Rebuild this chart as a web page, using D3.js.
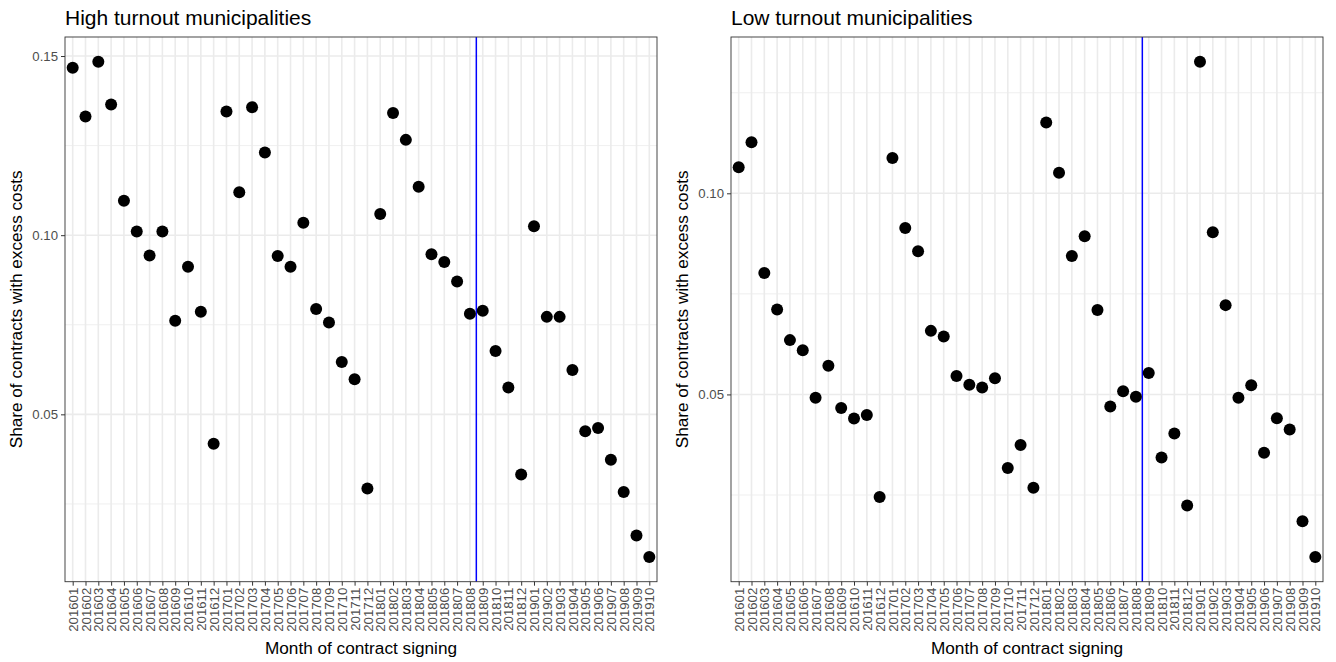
<!DOCTYPE html>
<html>
<head>
<meta charset="utf-8">
<script src="https://cdn.jsdelivr.net/npm/d3@7"></script>
<style>
  body { margin: 0; background: #fff; }
  svg { display: block; font-family: "Liberation Sans", Arial, sans-serif; }
</style>
</head>
<body>
<div id="chart"></div>
<script>
// months on the x axis
const months = ["201601","201602","201603","201604","201605","201606","201607","201608","201609","201610","201611","201612",
  "201701","201702","201703","201704","201705","201706","201707","201708","201709","201710","201711","201712",
  "201801","201802","201803","201804","201805","201806","201807","201808","201809","201810","201811","201812",
  "201901","201902","201903","201904","201905","201906","201907","201908","201909","201910"];

const highTurnout = [0.1467,0.1331,0.1484,0.1365,0.1096,0.1010,0.0943,0.1010,0.0761,0.0912,0.0786,0.0418,
  0.1345,0.1120,0.1357,0.1231,0.0942,0.0912,0.1035,0.0794,0.0756,0.0646,0.0598,0.0293,
  0.1059,0.1341,0.1266,0.1135,0.0947,0.0925,0.0871,0.0781,0.0789,0.0677,0.0575,0.0332,
  0.1025,0.0772,0.0772,0.0624,0.0453,0.0462,0.0373,0.0283,0.0162,0.0102];

const lowTurnout = [0.1065,0.1127,0.0802,0.0711,0.0635,0.0610,0.0492,0.0571,0.0466,0.0440,0.0449,0.0245,
  0.1088,0.0914,0.0856,0.0658,0.0644,0.0546,0.0524,0.0517,0.0540,0.0317,0.0374,0.0268,
  0.1176,0.1051,0.0844,0.0893,0.0710,0.0470,0.0508,0.0494,0.0553,0.0343,0.0403,0.0224,
  0.1327,0.0903,0.0722,0.0492,0.0523,0.0355,0.0441,0.0413,0.0185,0.0096];

const yBreaks = [0.05, 0.10, 0.15];
const cutoffMonth = "201808"; // vertical line drawn just after this month

const panels = [
  { title: "High turnout municipalities", values: highTurnout, left: 65, right: 657 },
  { title: "Low turnout municipalities", values: lowTurnout, left: 731, right: 1323 }
];

const width = 1336, height = 662;
const plotTop = 37, plotBottom = 581.7;

const svg = d3.select("#chart").append("svg")
  .attr("width", width)
  .attr("height", height);

panels.forEach(p => {
  const g = svg.append("g");

  const x = d3.scalePoint()
    .domain(months)
    .range([p.left, p.right])
    .padding(0.6);

  const ext = d3.extent(p.values);
  const span = ext[1] - ext[0];
  const y = d3.scaleLinear()
    .domain([ext[0] - 0.05 * span, ext[1] + 0.05 * span])
    .range([plotBottom, plotTop]);

  const [d0, d1] = y.domain();
  const majors = yBreaks.filter(v => v >= d0 && v <= d1);
  const minors = d3.range(0.025, 0.2, 0.05).filter(v => v >= d0 && v <= d1);

  // grid
  g.append("g").selectAll("line")
    .data(minors).join("line")
    .attr("x1", p.left).attr("x2", p.right)
    .attr("y1", d => y(d)).attr("y2", d => y(d))
    .attr("stroke", "#ebebeb").attr("stroke-width", 0.8);

  g.append("g").selectAll("line")
    .data(majors).join("line")
    .attr("x1", p.left).attr("x2", p.right)
    .attr("y1", d => y(d)).attr("y2", d => y(d))
    .attr("stroke", "#ebebeb").attr("stroke-width", 1.6);

  g.append("g").selectAll("line")
    .data(months).join("line")
    .attr("x1", d => x(d)).attr("x2", d => x(d))
    .attr("y1", plotTop).attr("y2", plotBottom)
    .attr("stroke", "#ebebeb").attr("stroke-width", 1.6);

  // cutoff line
  const xc = x(cutoffMonth) + x.step() / 2;
  g.append("line")
    .attr("x1", xc).attr("x2", xc)
    .attr("y1", plotTop).attr("y2", plotBottom)
    .attr("stroke", "#0000ff").attr("stroke-width", 1.5);

  // points
  g.append("g").selectAll("circle")
    .data(p.values).join("circle")
    .attr("cx", (d, i) => x(months[i]))
    .attr("cy", d => y(d))
    .attr("r", 6)
    .attr("fill", "#000");

  // border
  g.append("rect")
    .attr("x", p.left).attr("y", plotTop)
    .attr("width", p.right - p.left).attr("height", plotBottom - plotTop)
    .attr("fill", "none").attr("stroke", "#333").attr("stroke-width", 0.9);

  // axes
  const xAxis = g.append("g")
    .attr("transform", `translate(0,${plotBottom})`)
    .call(d3.axisBottom(x).tickSize(4).tickPadding(2).tickSizeOuter(0));
  xAxis.select(".domain").remove();
  xAxis.selectAll(".tick line").attr("stroke", "#333");
  xAxis.selectAll(".tick text")
    .attr("fill", "#4d4d4d")
    .attr("font-size", 13.2)
    .attr("transform", "rotate(-90)")
    .attr("text-anchor", "end")
    .attr("x", -6)
    .attr("y", 0)
    .attr("dy", "0.35em");

  const yAxis = g.append("g")
    .attr("transform", `translate(${p.left},0)`)
    .call(d3.axisLeft(y).tickValues(majors).tickFormat(d3.format(".2f")).tickSize(4).tickPadding(3));
  yAxis.select(".domain").remove();
  yAxis.selectAll(".tick line").attr("stroke", "#333");
  yAxis.selectAll(".tick text").attr("fill", "#4d4d4d").attr("font-size", 13.2);

  // titles
  g.append("text")
    .attr("x", p.left).attr("y", 25)
    .attr("font-size", 21)
    .attr("fill", "#000")
    .text(p.title);

  g.append("text")
    .attr("x", (p.left + p.right) / 2).attr("y", 654)
    .attr("text-anchor", "middle")
    .attr("font-size", 17.2)
    .text("Month of contract signing");

  g.append("text")
    .attr("transform", `translate(${p.left - 43.5},${(plotTop + plotBottom) / 2}) rotate(-90)`)
    .attr("text-anchor", "middle")
    .attr("font-size", 17.2)
    .text("Share of contracts with excess costs");
});
</script>
</body>
</html>
